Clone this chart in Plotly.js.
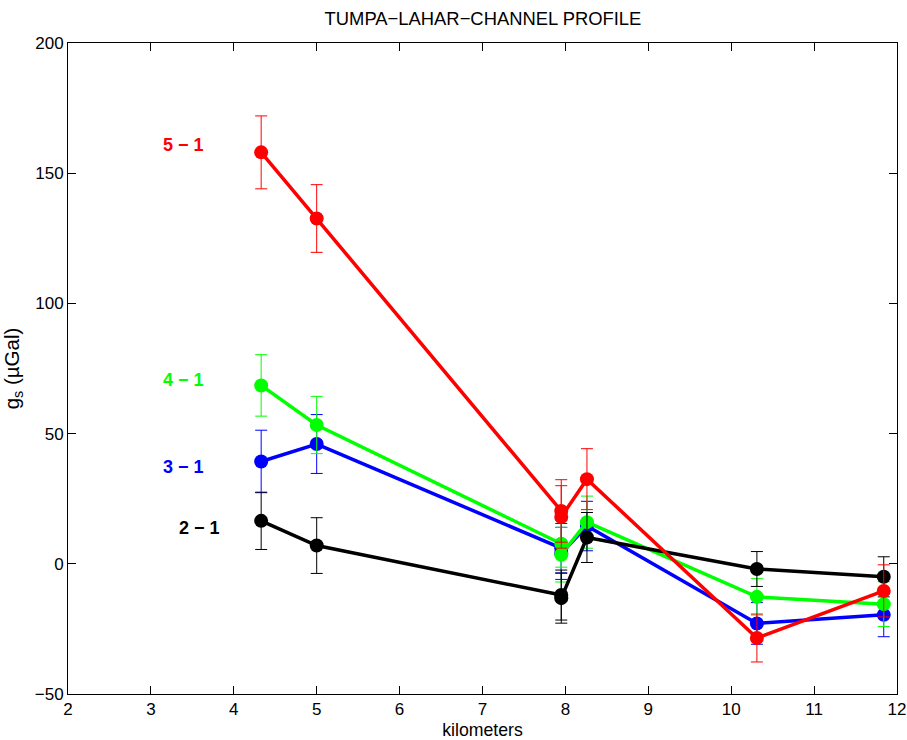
<!DOCTYPE html>
<html>
<head>
<meta charset="utf-8">
<script src="https://cdn.plot.ly/plotly-3.0.1.min.js"></script>
<style>html,body{margin:0;padding:0;background:#fff;}#chart{width:907px;height:740px;}</style>
</head>
<body>
<div id="chart"></div>
<script>
// Distance along profile (km)
const km = [4.33, 5.0, 7.95, 7.95, 8.26, 10.31, 11.84];

// Gravity differences g_s (µGal) and their error bars
const s51 = [158, 132.6, 20.3, 18.0, 32.5, -28.5, -10.4];
const e51 = [14, 13, 12, 12, 11.7, 9.2, 10];

const s41 = [68.5, 53.3, 7.7, 3.5, 16, -12.7, -15.5];
const e41 = [11.8, 11, 9, 10.5, 10, 7, 8.6];

const s31 = [39.3, 46, 6, 4, 14.5, -22.9, -19.6];
const e31 = [12, 11.3, 9.5, 10, 9.5, 8, 8.4];

const s21 = [16.5, 7, -12, -13.2, 10.1, -2, -5];
const e21 = [11, 10.7, 9.6, 9.6, 9.6, 6.7, 7.7];

// Series labels and their positions
const labels = ["5 − 1", "4 − 1", "3 − 1", "2 − 1"];
const labelX = [3.39, 3.39, 3.39, 3.59];
const labelY = [161, 70.7, 37.2, 13.8];
const colors = ["#ff0000", "#00ff00", "#0000ff", "#000000"];

function series(y, e, color) {
  return {
    x: km, y: y, type: "scatter", mode: "lines+markers",
    line: {color: color, width: 3.5},
    marker: {color: color, size: 14},
    error_y: {type: "data", array: e, visible: true, color: color, thickness: 1, width: 6},
    showlegend: false, hoverinfo: "x+y"
  };
}

const data = [
  series(s31, e31, colors[2]),
  series(s41, e41, colors[1]),
  series(s21, e21, colors[3]),
  series(s51, e51, colors[0])
];

const font = "Liberation Sans, Arial, Helvetica, sans-serif";

const annotations = labels.map((t, i) => ({
  x: labelX[i], y: labelY[i], xref: "x", yref: "y", text: "<b>" + t + "</b>",
  showarrow: false, xanchor: "center", yanchor: "middle",
  font: {family: font, size: 18, color: colors[i]}
}));

const axisCommon = {
  showline: true, mirror: "ticks", linecolor: "#000", linewidth: 1,
  ticks: "inside", ticklen: 8, tickwidth: 1, tickcolor: "#000",
  showgrid: false, zeroline: false,
  tickfont: {family: font, size: 17, color: "#000"}
};

const layout = {
  width: 907, height: 740,
  margin: {l: 68, r: 10, t: 43, b: 46},
  paper_bgcolor: "#fff", plot_bgcolor: "#fff",
  title: {text: "TUMPA−LAHAR−CHANNEL PROFILE", font: {family: font, size: 18.4, color: "#000"},
          x: 0.5325, xanchor: "center", y: 0.975, yanchor: "middle"},
  xaxis: Object.assign({}, axisCommon, {
    range: [2, 12], dtick: 1, tick0: 2,
    title: {text: "kilometers", font: {family: font, size: 17.7, color: "#000"}, standoff: 10}
  }),
  yaxis: Object.assign({}, axisCommon, {
    range: [-50, 200], dtick: 50, tick0: -50,
    title: {text: "g<sub>s</sub> (µGal)", font: {family: font, size: 20.5, color: "#000"}, standoff: 9}
  }),
  annotations: annotations
};

Plotly.newPlot("chart", data, layout, {displayModeBar: false, staticPlot: true});
</script>
</body>
</html>
